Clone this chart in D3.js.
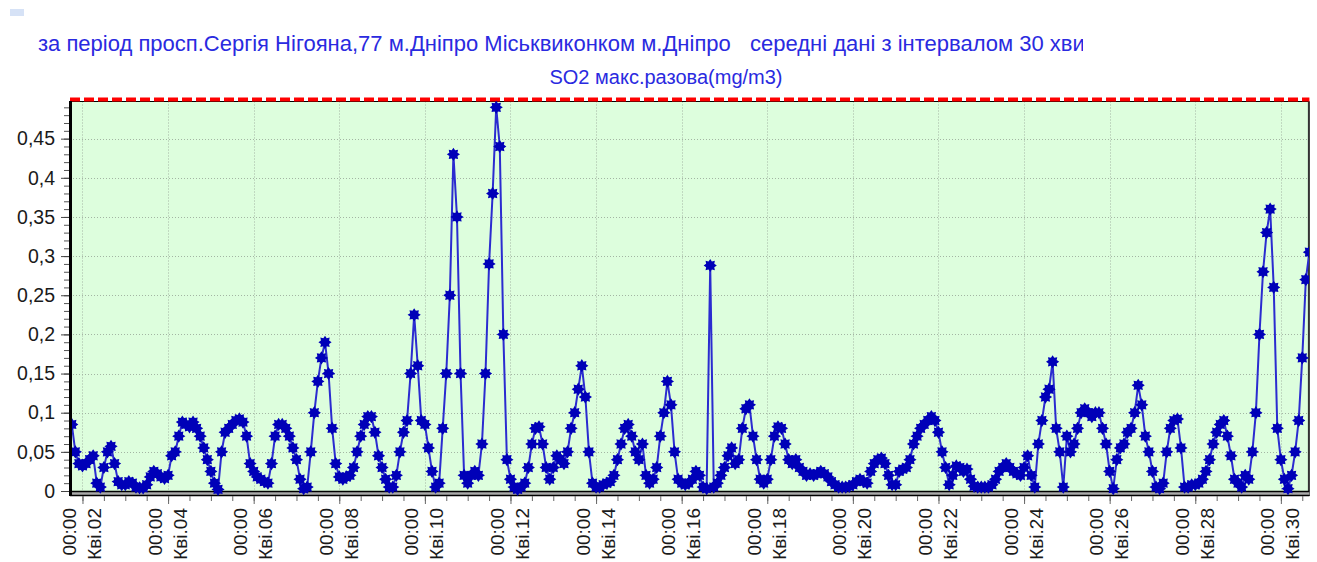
<!DOCTYPE html>
<html>
<head>
<meta charset="utf-8">
<script src="https://cdn.jsdelivr.net/npm/d3@7"></script>
<style>
  body { margin: 0; background: #fff; }
  text { font-family: Arial, 'Liberation Sans', sans-serif; }
</style>
</head>
<body>
<svg id="chart" width="1317" height="562"></svg>
<script>
// SO2 max single concentration at 2-hour steps
// first sample 01.04 18:00, last sample 30.04 16:00
const startTime = new Date(2021, 3, 1, 18)
const stepHours = 2

const so2Week1 = [
  0.085, 0.05, 0.035, // 01
  0.032, 0.035, 0.04, 0.045, 0.01, 0.005, 0.03, 0.05, 0.057, 0.035, 0.012, 0.008, // 02
  0.008, 0.012, 0.01, 0.005, 0.004, 0.004, 0.008, 0.018, 0.025, 0.022, 0.018, 0.016, // 03
  0.02, 0.045, 0.05, 0.07, 0.088, 0.085, 0.082, 0.088, 0.08, 0.07, 0.055, 0.04, // 04
  0.025, 0.01, 0.002, 0.05, 0.075, 0.08, 0.085, 0.09, 0.092, 0.088, 0.07, 0.035, // 05
  0.025, 0.018, 0.015, 0.012, 0.01, 0.035, 0.07, 0.085, 0.085, 0.08, 0.07, 0.055, // 06
  0.04, 0.015, 0.003, 0.005, 0.05, 0.1, 0.14, 0.17, 0.19, 0.15, 0.08, 0.035 // 07
]
const so2Week2 = [
  0.018, 0.015, 0.018, 0.02, 0.03, 0.05, 0.07, 0.085, 0.095, 0.095, 0.075, 0.045, // 08
  0.03, 0.015, 0.005, 0.005, 0.02, 0.05, 0.075, 0.09, 0.15, 0.225, 0.16, 0.09, // 09
  0.085, 0.055, 0.025, 0.005, 0.01, 0.08, 0.15, 0.25, 0.43, 0.35, 0.15, 0.02, // 10
  0.01, 0.02, 0.025, 0.02, 0.06, 0.15, 0.29, 0.38, 0.49, 0.44, 0.2, 0.04, // 11
  0.015, 0.005, 0.002, 0.005, 0.01, 0.03, 0.06, 0.08, 0.082, 0.06, 0.03, 0.015, // 12
  0.03, 0.045, 0.04, 0.035, 0.05, 0.08, 0.1, 0.13, 0.16, 0.12, 0.05, 0.01, // 13
  0.005, 0.005, 0.008, 0.01, 0.012, 0.02, 0.04, 0.06, 0.08, 0.085, 0.07, 0.05 // 14
]
const so2Week3 = [
  0.04, 0.06, 0.02, 0.01, 0.015, 0.03, 0.07, 0.1, 0.14, 0.11, 0.05, 0.015, // 15
  0.01, 0.008, 0.01, 0.015, 0.025, 0.02, 0.005, 0.003, 0.288, 0.005, 0.01, 0.02, // 16
  0.03, 0.045, 0.055, 0.035, 0.04, 0.08, 0.105, 0.11, 0.07, 0.04, 0.015, 0.01, // 17
  0.015, 0.04, 0.07, 0.082, 0.08, 0.06, 0.04, 0.035, 0.04, 0.03, 0.025, 0.02, // 18
  0.022, 0.02, 0.022, 0.025, 0.022, 0.018, 0.012, 0.008, 0.005, 0.005, 0.005, 0.006, // 19
  0.008, 0.012, 0.015, 0.012, 0.01, 0.025, 0.035, 0.04, 0.042, 0.035, 0.02, 0.008, // 20
  0.008, 0.025, 0.028, 0.03, 0.04, 0.06, 0.07, 0.08, 0.085, 0.09, 0.095, 0.09 // 21
]
const so2Week4 = [
  0.075, 0.05, 0.03, 0.008, 0.02, 0.032, 0.03, 0.025, 0.028, 0.015, 0.006, 0.005, // 22
  0.005, 0.005, 0.005, 0.008, 0.015, 0.025, 0.03, 0.035, 0.03, 0.025, 0.022, 0.02, // 23
  0.03, 0.045, 0.02, 0.005, 0.06, 0.09, 0.12, 0.13, 0.165, 0.08, 0.05, 0.005, // 24
  0.07, 0.05, 0.06, 0.08, 0.1, 0.105, 0.1, 0.095, 0.1, 0.1, 0.08, 0.06, // 25
  0.025, 0.003, 0.04, 0.055, 0.06, 0.075, 0.08, 0.1, 0.135, 0.11, 0.07, 0.05, // 26
  0.025, 0.005, 0.003, 0.01, 0.05, 0.08, 0.09, 0.092, 0.055, 0.005, 0.005, 0.008, // 27
  0.008, 0.01, 0.015, 0.025, 0.04, 0.06, 0.075, 0.085, 0.09, 0.07, 0.045, 0.015, // 28
  0.01, 0.005, 0.02, 0.015, 0.05, 0.1, 0.2, 0.28, 0.33, 0.36, 0.26, 0.08, // 29
  0.04, 0.015, 0.003, 0.02, 0.05, 0.09, 0.17, 0.27, 0.305 // 30
]

const yTickValues = [0, 0.05, 0.1, 0.15, 0.2, 0.25, 0.3, 0.35, 0.4, 0.45]
const limitValue = 0.5
const labelDays = [2, 4, 6, 8, 10, 12, 14, 16, 18, 20, 22, 24, 26, 28, 30]
const monthShort = 'Кві'
const titleMain = 'за період просп.Сергія Нігояна,77 м.Дніпро Міськвиконком м.Дніпро'
const titleInterval = 'середні дані з інтервалом 30 хвилин'
const seriesName = 'SO2 макс.разова(mg/m3)'

const values = [].concat(so2Week1, so2Week2, so2Week3, so2Week4)
const data = values.map((v, i) => ({ t: new Date(+startTime + i * stepHours * 3600e3), v }))

const left = 70, right = 1309.4, frameTop = 101.5, bottom = 491
const svg = d3.select('#chart')

const x = d3.scaleTime()
  .domain([new Date(2021, 3, 1, 17), new Date(2021, 3, 30, 16)])
  .range([left, right])
const y = d3.scaleLinear().domain([0, limitValue]).range([bottom, 99.5])

const blue = '#2a2ae0'

// little marker box top-left
svg.append('rect').attr('x', 10).attr('y', 9).attr('width', 14).attr('height', 7).attr('fill', '#d6e2f6')

// titles
svg.append('text').attr('x', 38).attr('y', 51).attr('font-size', 22).attr('fill', blue).text(titleMain)
svg.append('clipPath').attr('id', 'titleClip')
  .append('rect').attr('x', 740).attr('y', 25).attr('width', 343).attr('height', 40)
svg.append('text').attr('x', 750).attr('y', 51).attr('font-size', 22).attr('fill', blue)
  .attr('clip-path', 'url(#titleClip)').text(titleInterval)
svg.append('text').attr('x', 666).attr('y', 84).attr('text-anchor', 'middle')
  .attr('font-size', 20).attr('fill', blue).text(seriesName)

// plot background
svg.append('rect').attr('x', left).attr('y', frameTop).attr('width', right - left).attr('height', bottom - frameTop)
  .attr('fill', '#ddfedd')

// dotted grid
const grid = svg.append('g').attr('stroke', '#a3b5a3').attr('stroke-dasharray', '1,2').attr('stroke-width', 1)
grid.selectAll('line.h').data(yTickValues.filter(d => d > 0)).join('line')
  .attr('x1', left).attr('x2', right)
  .attr('y1', d => Math.round(y(d)) + 0.5).attr('y2', d => Math.round(y(d)) + 0.5)
grid.selectAll('line.v').data(labelDays).join('line')
  .attr('x1', d => Math.round(x(new Date(2021, 3, d))) + 0.5).attr('x2', d => Math.round(x(new Date(2021, 3, d))) + 0.5)
  .attr('y1', frameTop).attr('y2', bottom)

// frame
svg.append('line').attr('x1', left).attr('x2', right).attr('y1', frameTop).attr('y2', frameTop)
  .attr('stroke', '#000').attr('stroke-width', 1)
svg.append('line').attr('x1', right - 0.5).attr('x2', right - 0.5).attr('y1', frameTop).attr('y2', bottom + 5)
  .attr('stroke', '#333').attr('stroke-width', 2)

// limit line at 0.5
svg.append('line').attr('x1', left).attr('x2', right).attr('y1', y(limitValue)).attr('y2', y(limitValue))
  .attr('stroke', '#ff0000').attr('stroke-width', 4).attr('stroke-dasharray', '10,4')

// baseline band
svg.append('rect').attr('x', left).attr('y', bottom).attr('width', right - left).attr('height', 4).attr('fill', '#aaaaaa')
svg.append('line').attr('x1', left).attr('x2', right).attr('y1', bottom + 0.5).attr('y2', bottom + 0.5)
  .attr('stroke', '#000').attr('stroke-width', 1.5)
svg.append('line').attr('x1', left).attr('x2', right).attr('y1', bottom + 4.5).attr('y2', bottom + 4.5)
  .attr('stroke', '#000').attr('stroke-width', 1.5)

// series
svg.append('clipPath').attr('id', 'plotClip')
  .append('rect').attr('x', left + 1).attr('y', 94).attr('width', right - left - 1.5).attr('height', bottom - 94 + 6)

function starPath (R, r) {
  const p = d3.path()
  for (let k = 0; k < 16; k++) {
    const a = k * Math.PI / 8
    const rr = k % 2 ? r : R
    const px = rr * Math.sin(a), py = -rr * Math.cos(a)
    if (k === 0) p.moveTo(px, py); else p.lineTo(px, py)
  }
  p.closePath()
  return p.toString()
}

const series = svg.append('g').attr('clip-path', 'url(#plotClip)')
series.append('path').datum(data)
  .attr('fill', 'none').attr('stroke', '#2b2bd0').attr('stroke-width', 2)
  .attr('d', d3.line().x(d => x(d.t)).y(d => y(d.v)))
const star = starPath(6.6, 4.4)
series.selectAll('path.pt').data(data).join('path')
  .attr('class', 'pt')
  .attr('transform', d => `translate(${x(d.t)},${y(d.v)})`)
  .attr('d', star).attr('fill', '#0000b8')

// y axis
const uaLocale = d3.formatLocale({ decimal: ',', thousands: ' ', grouping: [3], currency: ['', ''] })
const fmt = uaLocale.format('.2~f')
const yMinor = svg.append('g').attr('transform', `translate(${left},0)`)
  .call(d3.axisLeft(y).tickValues(d3.range(1, 50).map(d => d / 100)).tickSize(6).tickFormat(''))
yMinor.select('.domain').remove()
yMinor.selectAll('line').attr('stroke', '#555')
const yAxis = svg.append('g').attr('transform', `translate(${left},0)`)
  .call(d3.axisLeft(y).tickValues(yTickValues).tickSize(9).tickPadding(6).tickFormat(fmt))
yAxis.select('.domain').remove()
yAxis.selectAll('line').attr('stroke', '#444')
yAxis.selectAll('text').attr('font-size', 19.5).attr('fill', '#1a1a1a').attr('font-family', 'Arial, Liberation Sans, sans-serif')

// left axis line
svg.append('line').attr('x1', left + 0.5).attr('x2', left + 0.5).attr('y1', frameTop - 0.5).attr('y2', bottom + 5)
  .attr('stroke', '#000').attr('stroke-width', 3)

// x axis
const xMinor = svg.append('g').attr('transform', `translate(0,${bottom + 5})`)
  .call(d3.axisBottom(x).ticks(d3.timeHour.every(12)).tickSize(5).tickFormat(''))
xMinor.select('.domain').remove()
xMinor.selectAll('line').attr('stroke', '#666')
const xAxis = svg.append('g').attr('transform', `translate(0,${bottom + 5})`)
  .call(d3.axisBottom(x).tickValues(labelDays.map(d => new Date(2021, 3, d))).tickSize(8).tickFormat(''))
xAxis.select('.domain').remove()
xAxis.selectAll('line').attr('stroke', '#666')
const dd = d3.timeFormat('%d')
const xt = xAxis.selectAll('.tick').append('text')
  .attr('transform', 'translate(0,12) rotate(-90)')
  .attr('text-anchor', 'end').attr('font-size', 19).attr('fill', '#1a1a1a')
  .attr('font-family', 'Arial, Liberation Sans, sans-serif')
xt.append('tspan').attr('x', 0).attr('y', -7).text('00:00')
xt.append('tspan').attr('x', 0).attr('y', 18).text(d => monthShort + '.' + dd(d))
</script>
</body>
</html>
